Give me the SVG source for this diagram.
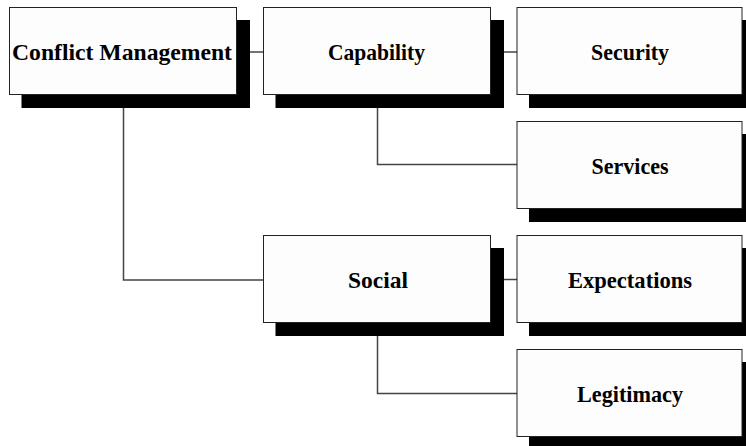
<svg xmlns="http://www.w3.org/2000/svg" width="746" height="446" viewBox="0 0 746 446">
<style>
.box{fill:#fdfdfd;stroke:#222;stroke-width:1}
.sh{fill:#000}
.lbl{font-family:"Liberation Serif","Times New Roman",serif;font-weight:bold;font-size:24px;fill:#000;text-anchor:middle}
.con{fill:none;stroke:#444;stroke-width:1.5}
</style>
<rect width="746" height="446" fill="#fff"/>
<g id="connectors">
<path class="con" d="M250,52 H263.5"/>
<path class="con" d="M504,52 H517"/>
<path class="con" d="M123.5,108 V280 H263.5"/>
<path class="con" d="M377.5,108 V164.5 H517"/>
<path class="con" d="M504,279.5 H517"/>
<path class="con" d="M377.5,336 V393.5 H517"/>
</g>
<g id="conflict-management">
<rect class="sh" x="21.5" y="20" width="228.5" height="88"/>
<rect class="box" x="9.5" y="7.5" width="227" height="87"/>
<text class="lbl" x="122" y="60" textLength="220" lengthAdjust="spacingAndGlyphs">Conflict Management</text>
</g>
<g id="capability">
<rect class="sh" x="275.5" y="20" width="228.5" height="88"/>
<rect class="box" x="263.5" y="7.5" width="227" height="87"/>
<text class="lbl" x="376.5" y="60" textLength="97" lengthAdjust="spacingAndGlyphs">Capability</text>
</g>
<g id="security">
<rect class="sh" x="529" y="20" width="228" height="88"/>
<rect class="box" x="517" y="7.5" width="225" height="87"/>
<text class="lbl" x="630" y="60" textLength="78" lengthAdjust="spacingAndGlyphs">Security</text>
</g>
<g id="services">
<rect class="sh" x="529" y="134" width="228" height="88"/>
<rect class="box" x="517" y="121.5" width="225" height="87"/>
<text class="lbl" x="630" y="174" textLength="77" lengthAdjust="spacingAndGlyphs">Services</text>
</g>
<g id="social">
<rect class="sh" x="275.5" y="248" width="228.5" height="88"/>
<rect class="box" x="263.5" y="235.5" width="227" height="87"/>
<text class="lbl" x="378" y="288" textLength="60" lengthAdjust="spacingAndGlyphs">Social</text>
</g>
<g id="expectations">
<rect class="sh" x="529" y="248" width="228" height="88"/>
<rect class="box" x="517" y="235.5" width="225" height="87"/>
<text class="lbl" x="630" y="288" textLength="124" lengthAdjust="spacingAndGlyphs">Expectations</text>
</g>
<g id="legitimacy">
<rect class="sh" x="529" y="362" width="228" height="88"/>
<rect class="box" x="517" y="349.5" width="225" height="87"/>
<text class="lbl" x="630" y="402" textLength="106" lengthAdjust="spacingAndGlyphs">Legitimacy</text>
</g>
</svg>
